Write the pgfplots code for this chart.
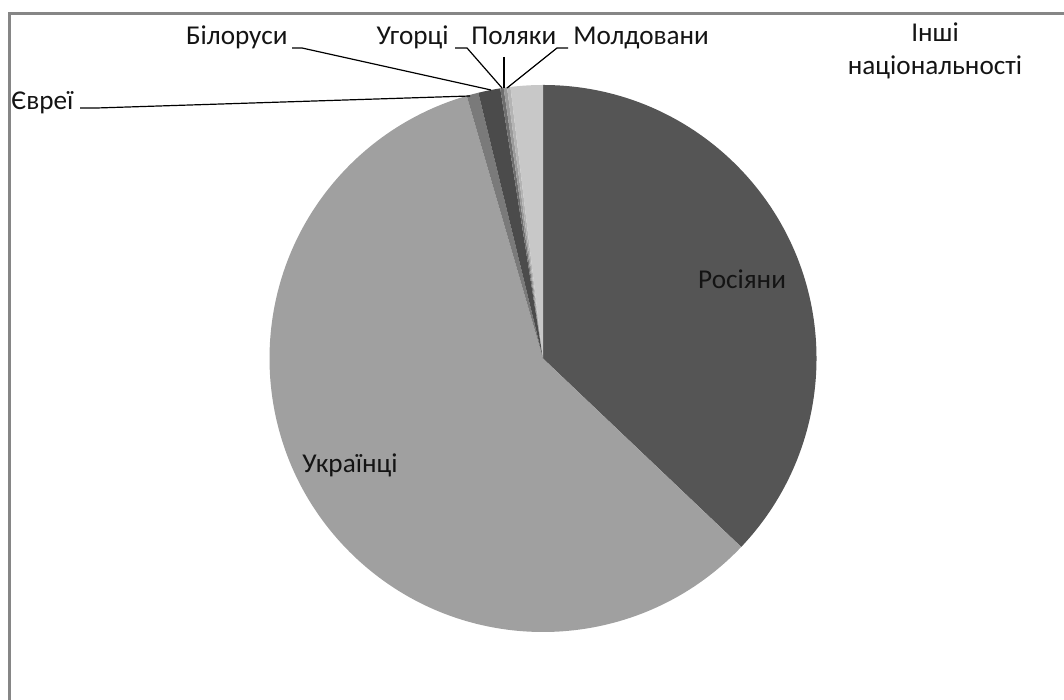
\documentclass[border=0pt]{standalone}
\usepackage{fontspec}
\setmainfont{Carlito}
\usepackage{pgfplots}
\usepackage{pgfplotstable}
\pgfplotsset{compat=1.18}

\definecolor{s0}{HTML}{555555}
\definecolor{s1}{HTML}{A0A0A0}
\definecolor{s2}{HTML}{7A7A7A}
\definecolor{s3}{HTML}{4B4B4B}
\definecolor{s4}{HTML}{6E6E6E}
\definecolor{s5}{HTML}{9A9A9A}
\definecolor{s6}{HTML}{B4B4B4}
\definecolor{s7}{HTML}{C8C8C8}
\definecolor{frame}{HTML}{868686}
\definecolor{txt}{HTML}{141414}

% share of each nationality, %, clockwise from 12 o'clock
\pgfplotstableread{
value col
37.1 s0
58.4 s1
0.7  s2
1.3  s3
0.2  s4
0.2  s5
0.2  s6
1.9  s7
}\nat
\pgfplotstablecreatecol[create col/expr accum={\pgfmathaccuma + \thisrow{value}}{0}]{cum}\nat

\begin{document}
\begin{tikzpicture}
\begin{axis}[
  x=0.5pt, y=0.5pt,
  xmin=0, xmax=1064, ymin=0, ymax=700,
  hide axis, clip=false,
]
% pie: centre (543,341.5), radius 273.5 px
\pgfplotsforeachungrouped \i in {0,...,7}{
  \pgfplotstablegetelem{\i}{value}\of\nat \let\v=\pgfplotsretval
  \pgfplotstablegetelem{\i}{cum}\of\nat \let\c=\pgfplotsretval
  \pgfplotstablegetelem{\i}{col}\of\nat \let\col=\pgfplotsretval
  \pgfmathsetmacro\aend{90-3.6*\c}
  \pgfmathsetmacro\astart{90-3.6*(\c-\v)}
  \edef\temp{\noexpand\fill[\col] (axis cs:543,341.5)
    -- (axis cs:{543+273.5*cos(\astart)},{341.5+273.5*sin(\astart)})
    arc[start angle=\astart, end angle=\aend, radius=136.75pt] -- cycle;}
  \temp
}

% frame
\draw[frame, line width=1.35pt] (axis cs:9.3,0) -- (axis cs:9.3,686.3) -- (axis cs:1064,686.3);

% leader lines
\draw[black, line width=0.6pt] (axis cs:80,592) -- (axis cs:97,592) -- (axis cs:470,604);
\draw[black, line width=0.6pt] (axis cs:292,652) -- (axis cs:302,652) -- (axis cs:491,610);
\draw[black, line width=0.6pt] (axis cs:455,652) -- (axis cs:467,652) -- (axis cs:502,612);
\draw[black, line width=0.6pt] (axis cs:504,643) -- (axis cs:504,612);
\draw[black, line width=0.6pt] (axis cs:568,652) -- (axis cs:557,652) -- (axis cs:507,612);

% labels
\begin{scope}[every node/.style={text=txt, font=\fontsize{13.6}{16}\selectfont, inner sep=0pt}]
\node at (axis cs:742,421) {Росіяни};
\node at (axis cs:350,235) {Українці};
\node[anchor=base west] at (axis cs:11,590) {Євреї};
\node[anchor=base east] at (axis cs:288,655) {Білоруси};
\node[anchor=base east] at (axis cs:449,655) {Угорці};
\node[anchor=base west] at (axis cs:471,655) {Поляки};
\node[anchor=base west] at (axis cs:573,655) {Молдовани};
\node[align=center, font=\fontsize{13.6}{16.3}\selectfont] at (axis cs:935,649) {Інші\\національності};
\end{scope}
\end{axis}
\pgfresetboundingbox
\useasboundingbox (0,0) rectangle (532pt,350pt);
\end{tikzpicture}
\end{document}
